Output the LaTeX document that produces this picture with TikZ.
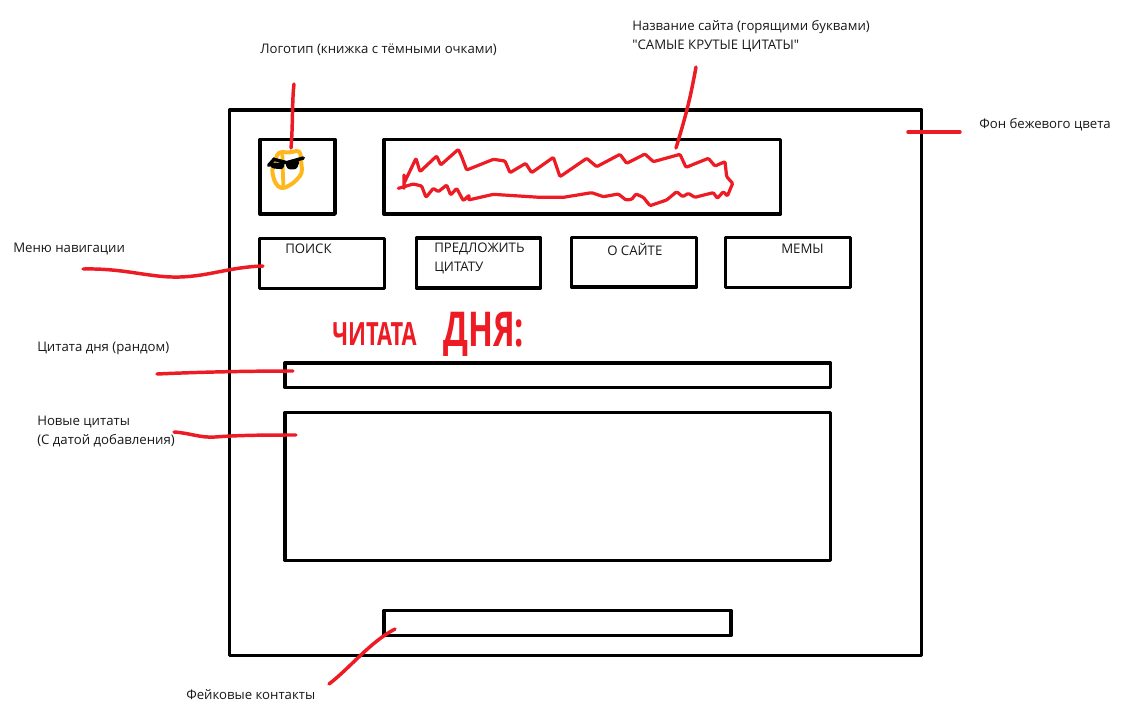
\documentclass[tikz,border=0pt]{standalone}
\usepackage{fontspec}
\usepackage{graphicx}
\setmainfont{Open Sans}[Ligatures=TeXOff]
\definecolor{inkred}{HTML}{ED1C24}
\definecolor{inkorange}{HTML}{FFB81C}
\tikzset{
  wirebox/.style={draw=black,line width=2.5pt,line join=round,inner sep=0pt,outer sep=0pt,fill=none},
  note/.style={font=\fontsize{9.9}{14}\selectfont,text=black!90,anchor=west,inner sep=0pt,align=left},
  leader/.style={draw=inkred,line width=2.6pt,line cap=round,line join=round},
  scribble/.style={draw=inkred,line width=2.4pt,line cap=round,line join=round,rounded corners=0.8pt},
  hand/.style={text=inkred,inner sep=0pt,anchor=west}
}
\newcommand{\wbox}[5]{%
  \pgfmathsetmacro\bw{(#4-#2)*0.75}\pgfmathsetmacro\bh{(#5-#3)*0.75}%
  \node[wirebox,minimum width=\bw pt,minimum height=\bh pt] (#1) at ({(#2+#4)/2},{(#3+#5)/2}) {};}
\begin{document}
\begin{tikzpicture}[x=0.75pt,y=-0.75pt]
\useasboundingbox (0,0) rectangle (1132,726);
\fill[white] (0,0) rectangle (1132,726);
% wireframe
\wbox{page}{229.5}{110}{921.5}{655.5}
\wbox{logo}{260}{139.5}{335}{214}
\wbox{title}{384}{139.5}{780.5}{214}
\wbox{search}{259.5}{238.5}{384.5}{288.5}
\wbox{suggest}{416.5}{238}{540.5}{288}
\wbox{about}{571.5}{237.5}{696.5}{287}
\wbox{memes}{725.5}{237.5}{850.5}{287.5}
\wbox{quote}{285}{363}{830.5}{387.5}
\wbox{newq}{285}{412.5}{830.5}{560.5}
\wbox{contacts}{384}{610.5}{731}{635.5}
% texts
\node[note] (tlogo) at (260,50) {Логотип (книжка с тёмными очками)};
\node[note] (tname) at (632,36) {Название сайта (горящими буквами)\\"САМЫЕ КРУТЫЕ ЦИТАТЫ"};
\node[note] (tbg) at (979,125) {Фон бежевого цвета};
\node[note] (tmenu) at (13,249) {Меню навигации};
\node[note] (tquote) at (37,348) {Цитата дня (рандом)};
\node[note] (tnew) at (37,431.5) {Новые цитаты\\(С датой добавления)};
\node[note] (tfake) at (186,695) {Фейковые контакты};
\node[note] (lsearch) at (285,249) {ПОИСК};
\node[note] (lsuggest) at (434,258.5) {ПРЕДЛОЖИТЬ\\ЦИТАТУ};
\node[note] (labout) at (607,249) {О САЙТЕ};
\node[note] (lmemes) at (781,249) {МЕМЫ};
% handwritten heading
\node[hand] (hw1) at (332,334) {\scalebox{0.68}[1]{\fontsize{24}{24}\selectfont\bfseries ЧИТАТА}};
\node[hand] (hw2) at (443,334) {\scalebox{0.68}[1]{\fontsize{36}{36}\selectfont\bfseries ДНЯ:}};
% book with sunglasses
\begin{scope}[shift={(250,70)},x=0.25pt,y=-0.25pt]
  \draw[draw=inkorange,line width=3pt,line join=round,rounded corners=3pt]
    (85,245) -- (120,248) -- (150,240) -- (157,310) -- (130,340) -- (95,358) -- (75,340) -- (65,300) -- cycle;
  \draw[draw=inkorange,line width=2.8pt,line cap=round] (97,255) -- (100,350);
  \draw[black,line width=2.6pt,line cap=round] (56,286) -- (72,268) -- (110,278) -- (160,264);
  \fill[black,rounded corners=2pt] (55,280) -- (105,276) -- (100,298) -- (65,295) -- cycle;
  \fill[black,rounded corners=2pt] (105,276) -- (150,272) -- (140,298) -- (112,298) -- cycle;
\end{scope}
% leaders
\coordinate (a1) at (294,84);   \coordinate (a2) at (291,148);
\draw[leader] (a1) .. controls (292,100) and (293,125) .. (a2);
\coordinate (b1) at (696,67);   \coordinate (b2) at (676,148);
\draw[leader] (b1) .. controls (690,100) and (686,115) .. (b2);
\coordinate (c1) at (908,132);  \coordinate (c2) at (960,132);
\draw[leader] (c1) -- (c2);
\coordinate (d1) at (83,269);   \coordinate (d2) at (263,266);
\draw[leader] (d1) .. controls (125,268) and (150,278) .. (180,277) .. controls (210,276) and (230,267) .. (d2);
\coordinate (e1) at (157,374);  \coordinate (e2) at (293,371);
\draw[leader] (e1) .. controls (200,372) and (250,371) .. (e2);
\coordinate (f1) at (174,432);  \coordinate (f2) at (296,435);
\draw[leader] (f1) .. controls (190,433) and (200,438) .. (215,437) .. controls (240,435) and (270,435) .. (f2);
\coordinate (g1) at (329,684);  \coordinate (g2) at (395,629);
\draw[leader] (g1) .. controls (350,668) and (370,642) .. (g2);
% title scribble
\begin{scope}[shift={(380,60)},x=0.25pt,y=-0.25pt]
  \draw[scribble] (72,345) -- (72,385) (72,370) -- (108,295) -- (120,335) -- (170,288) -- (182,315) -- (235,268) -- (245,290) -- (260,330) -- (340,298) -- (375,303) -- (390,338) -- (437,310) -- (455,338) -- (520,292) -- (540,350) -- (620,295) -- (650,320) -- (720,283) -- (740,310) -- (795,282) -- (820,305) -- (900,283) -- (918,322) -- (985,295) -- (1005,318) -- (1035,305) -- (1040,350) -- (1058,370) -- (1042,408) -- (1030,395) -- (1012,415) -- (1000,398) -- (960,408) -- (945,412) -- (925,400) -- (908,410) -- (890,395) -- (860,420) -- (810,437) -- (790,412) -- (768,402) -- (755,418) -- (738,420) -- (715,402) -- (670,410) -- (635,398) -- (550,412) -- (480,412) -- (340,403) -- (265,420) -- (268,405) -- (250,422) -- (230,385) -- (212,405) -- (200,375) -- (175,395) -- (160,385) -- (138,412) -- (125,378) -- (100,372) -- (55,385);
\end{scope}
\end{tikzpicture}
\end{document}
